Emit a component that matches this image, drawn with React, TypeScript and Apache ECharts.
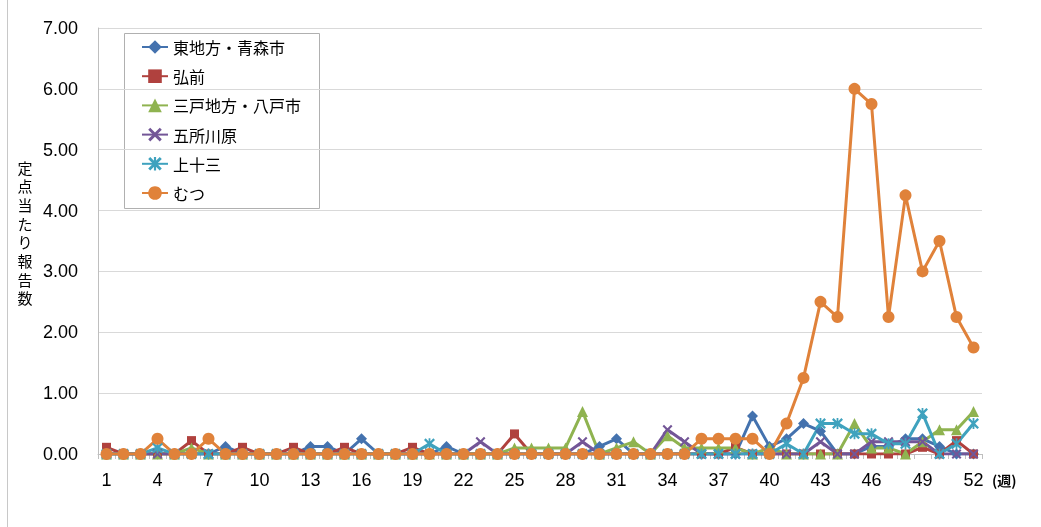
import React, { useEffect, useRef } from "react";
import * as echarts from "echarts";

const weeks = ["1","2","3","4","5","6","7","8","9","10","11","12","13","14","15","16","17","18","19","20","21","22","23","24","25","26","27","28","29","30","31","32","33","34","35","36","37","38","39","40","41","42","43","44","45","46","47","48","49","50","51","52"];

const seriesNames = ["東地方・青森市", "弘前", "三戸地方・八戸市", "五所川原", "上十三", "むつ"];

const aomori = [0,0,0,0,0,0,0,0.125,0,0,0,0,0.125,0.125,0,0.25,0,0,0,0,0.125,0,0,0,0,0,0,0,0,0.125,0.25,0,0,0,0,0,0,0,0.625,0.125,0.25,0.5,0.375,0,0,0.125,0.125,0.25,0.25,0.125,0,0];
const hirosaki = [0.11,0,0,0,0,0.22,0,0,0.11,0,0,0.11,0,0,0.11,0,0,0,0.11,0,0,0,0,0,0.33,0,0,0,0,0,0,0,0,0,0,0,0,0.11,0,0,0,0,0,0,0,0,0,0,0.11,0,0.22,0];
const hachinohe = [0,0,0,0,0,0.1,0,0,0,0,0,0,0,0,0,0,0,0,0,0,0,0,0,0,0.1,0.1,0.1,0.1,0.7,0,0.1,0.2,0,0.3,0.1,0.1,0.1,0.1,0,0.1,0,0,0,0,0.5,0.1,0.1,0,0.2,0.4,0.4,0.7];
const goshogawara = [0,0,0,0,0,0,0,0,0,0,0,0,0,0,0,0,0,0,0,0,0,0,0.2,0,0,0,0,0,0.2,0,0,0,0,0.4,0.2,0,0,0,0,0,0,0,0.2,0,0,0.2,0.2,0.2,0.2,0,0,0];
const kamitosan = [0,0,0,0.1,0,0,0,0,0,0,0,0,0,0,0,0,0,0,0,0.167,0,0,0,0,0,0,0,0,0,0,0,0,0,0,0,0,0,0,0,0,0.167,0,0.5,0.5,0.333,0.333,0.167,0.167,0.667,0,0.167,0.5];
const mutsu = [0,0,0,0.25,0,0,0.25,0,0,0,0,0,0,0,0,0,0,0,0,0,0,0,0,0,0,0,0,0,0,0,0,0,0,0,0,0.25,0.25,0.25,0.25,0,0.5,1.25,2.5,2.25,6,5.75,2.25,4.25,3,3.5,2.25,1.75];

const yTicks = [0, 1, 2, 3, 4, 5, 6, 7];
const yAxisTitleChars = ["定", "点", "当", "た", "り", "報", "告", "数"];

const colors = ["#4472AE", "#B0413E", "#8FB350", "#735697", "#3FA2BE", "#E0823A"];

const X_PATH = "path://M0,1.5L1.5,0L5,3.5L8.5,0L10,1.5L6.5,5L10,8.5L8.5,10L5,6.5L1.5,10L0,8.5L3.5,5Z";
const STAR_PATH = "path://M0,1.5L1.5,0L5,3.5L8.5,0L10,1.5L6.5,5L10,8.5L8.5,10L5,6.5L1.5,10L0,8.5L3.5,5Z M4.2,0L5.8,0L5.8,10L4.2,10Z";

const FONT = "'Liberation Sans', 'Noto Sans CJK JP', sans-serif";
const CJK = "'Noto Sans CJK JP', sans-serif";

export default function App() {
  const ref = useRef<HTMLDivElement>(null);
  useEffect(() => {
    if (!ref.current) return;
    const chart = echarts.init(ref.current, null, { renderer: "svg" });
    const dataSets = [aomori, hirosaki, hachinohe, goshogawara, kamitosan, mutsu];
    const symbols = ["diamond", "rect", "triangle", X_PATH, STAR_PATH, "circle"];
    const sizes = [11, 9, 11, 10, 11, 12];
    chart.setOption({
      animation: false,
      color: colors,
      textStyle: { fontFamily: FONT },
      grid: { left: 98, right: 59, top: 28, bottom: 73, containLabel: false },
      legend: {
        orient: "vertical",
        left: 136,
        top: 34,
        itemWidth: 26,
        itemHeight: 17,
        itemGap: 13.2,
        data: seriesNames,
        textStyle: { fontFamily: CJK, fontSize: 16, color: "#000" },
      },
      xAxis: {
        type: "category",
        data: weeks,
        boundaryGap: true,
        name: "(週)",
        nameLocation: "end",
        nameGap: 10,
        nameTextStyle: { fontFamily: CJK, fontSize: 14, fontWeight: "bold", color: "#000", verticalAlign: "top", padding: [19, 0, 0, 0] },
        axisLine: { lineStyle: { color: "#bfbfbf", width: 1 } },
        axisTick: { show: true, interval: 0, length: 5, lineStyle: { color: "#bfbfbf" } },
        axisLabel: { interval: 2, fontSize: 18, color: "#000", margin: 17, fontFamily: FONT },
        splitLine: { show: false },
      },
      yAxis: {
        type: "value",
        min: yTicks[0],
        max: yTicks[yTicks.length - 1],
        interval: 1,
        axisLine: { show: true, lineStyle: { color: "#bfbfbf", width: 1 } },
        axisTick: { show: false },
        axisLabel: { fontSize: 18, color: "#000", margin: 20, formatter: (v: number) => v.toFixed(2), fontFamily: FONT },
        splitLine: { lineStyle: { color: "#d9d9d9", width: 1 } },
      },
      graphic: [
        { type: "line", shape: { x1: 7.5, y1: 0, x2: 7.5, y2: 527 }, style: { stroke: "#c8c8c8", lineWidth: 1 } },
        { type: "rect", shape: { x: 124.5, y: 33.5, width: 195, height: 175 }, style: { fill: "#fff", stroke: "#b0b0b0", lineWidth: 1 }, z: -1 },
        ...yAxisTitleChars.map((ch, i) => ({
          type: "text",
          x: 25,
          y: 167 + i * 18.7,
          style: {
            text: ch,
            fontFamily: CJK,
            fontSize: 15,
            lineHeight: 17,
            fill: "#000",
            align: "center",
            verticalAlign: "middle",
          },
        })),
      ],
      series: seriesNames.map((name, i) => ({
        name,
        type: "line",
        data: dataSets[i],
        symbol: symbols[i],
        symbolSize: sizes[i],
        showAllSymbol: true,
        lineStyle: { width: 3, color: colors[i] },
        itemStyle: { color: colors[i] },
        emphasis: { disabled: true },
      })),
    });
    return () => chart.dispose();
  }, []);
  return <div ref={ref} style={{ position: "fixed", left: 0, top: 0, width: 1041, height: 527 }} />;
}
